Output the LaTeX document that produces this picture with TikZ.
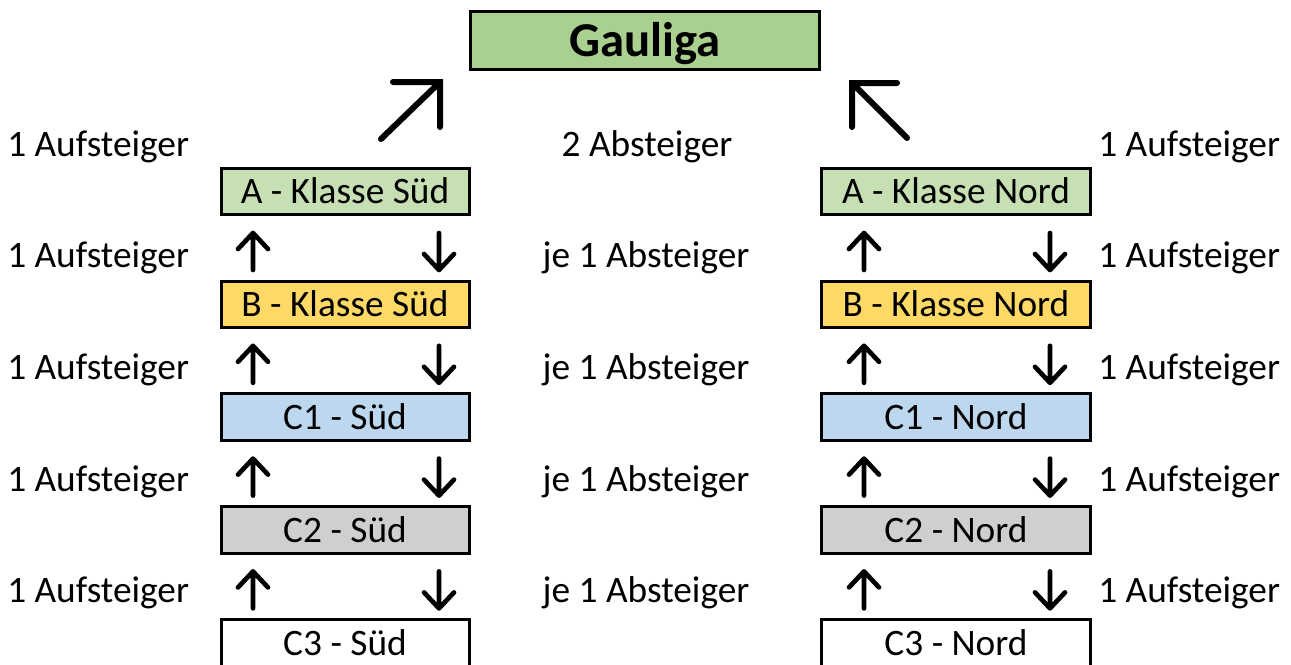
\documentclass[tikz,border=0pt]{standalone}
\usepackage{fontspec}
\setmainfont{Carlito}
\definecolor{gaugreen}{HTML}{A9D08E}
\definecolor{agreen}{HTML}{C6E0B4}
\definecolor{byellow}{HTML}{FFD966}
\definecolor{cblue}{HTML}{BDD7EE}
\definecolor{cgray}{HTML}{D0CECE}
\begin{document}
\begin{tikzpicture}[x=0.75pt,y=-0.75pt,
  box/.style={draw=black, line width=2.25pt, inner sep=0pt,
    font=\fontsize{28}{31}\selectfont, text height=18pt, text depth=0pt},
  sbox/.style={box, minimum width=186pt, minimum height=35pt},
  nbox/.style={box, minimum width=201.75pt, minimum height=35pt},
  lbl/.style={inner sep=0pt, font=\fontsize{28}{31}\selectfont},
  arr/.style={line width=3.5pt, line cap=round, line join=round},
  bigarr/.style={line width=4.5pt, line cap=round, line join=miter}]
\useasboundingbox (0,0) rectangle (1291,664);
% top box
\node[draw=black, line width=2.25pt, fill=gaugreen, inner sep=0pt,
  minimum width=261.75pt, minimum height=44pt,
  font=\fontsize{36.5}{40}\bfseries\selectfont, text height=23.5pt, text depth=0pt]
  (gau) at (645,40.5) {Gauliga};
% boxes
\node[sbox, fill=agreen]  (as) at (345,191.5) {A - Klasse Süd};
\node[sbox, fill=byellow] (bs) at (345,304.5) {B - Klasse Süd};
\node[sbox, fill=cblue]   (c1s) at (345,417) {C1 - Süd};
\node[sbox, fill=cgray]   (c2s) at (345,530) {C2 - Süd};
\node[sbox, fill=white]   (c3s) at (345,643) {C3 - Süd};
\node[nbox, fill=agreen]  (an) at (956,191.5) {A - Klasse Nord};
\node[nbox, fill=byellow] (bn) at (956,304.5) {B - Klasse Nord};
\node[nbox, fill=cblue]   (c1n) at (956,417) {C1 - Nord};
\node[nbox, fill=cgray]   (c2n) at (956,530) {C2 - Nord};
\node[nbox, fill=white]   (c3n) at (956,643) {C3 - Nord};
% labels
\node[lbl, anchor=base west] (l0) at (7,156) {1 Aufsteiger};
\node[lbl, anchor=base] (m0) at (647,156) {2 Absteiger};
\node[lbl, anchor=base west] (r0) at (1098,156) {1 Aufsteiger};
\foreach \k/\y in {1/267.5,2/379,3/491,4/602.5}{
  \node[lbl, anchor=base west] (l\k) at (7,\y) {1 Aufsteiger};
  \node[lbl, anchor=base] (m\k) at (646,\y) {je 1 Absteiger};
  \node[lbl, anchor=base west] (r\k) at (1098,\y) {1 Aufsteiger};
}
% big arrows
\coordinate (bla) at (381,139);
\coordinate (blt) at (440,82);
\coordinate (bra) at (907,138);
\coordinate (brt) at (852,83);
\draw[bigarr] (bla) -- (blt) (blt) ++(-47,0) -- (blt) -- ++(0,45);
\draw[bigarr] (bra) -- (brt) (brt) ++(45,0) -- (brt) -- ++(0,44);
% small arrows
\foreach \k in {1,2,3,4}{
  \pgfmathsetmacro{\dy}{112.8*(\k-1)}
  \foreach \xu/\xd/\s in {253/439/L,864/1050/R}{
    \coordinate (up\s\k a) at (\xu,270+\dy);
    \coordinate (up\s\k b) at (\xu,233+\dy);
    \coordinate (dn\s\k a) at (\xd,233+\dy);
    \coordinate (dn\s\k b) at (\xd,270+\dy);
    \draw[arr] (up\s\k a) -- (up\s\k b) (up\s\k b) ++(-15,16) -- (up\s\k b) -- ++(15,16);
    \draw[arr] (dn\s\k a) -- (dn\s\k b) (dn\s\k b) ++(-15,-16) -- (dn\s\k b) -- ++(15,-16);
  }
}
\end{tikzpicture}
\end{document}
